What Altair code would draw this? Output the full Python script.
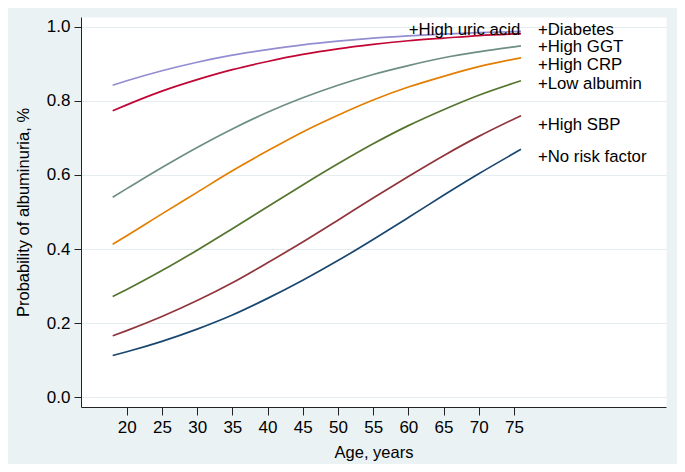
import altair as alt
import pandas as pd

ages = [18, 20, 25, 30, 35, 40, 45, 50, 55, 60, 65, 70, 76]

series_names = ["No risk factor", "+High SBP", "+Low albumin", "+High CRP",
                "+High GGT", "+Diabetes", "+High uric acid"]

no_risk = [0.113, 0.123, 0.151, 0.184, 0.222, 0.267, 0.316, 0.369, 0.426, 0.485, 0.545, 0.603, 0.669]
high_sbp = [0.166, 0.180, 0.218, 0.261, 0.309, 0.363, 0.419, 0.478, 0.538, 0.596, 0.652, 0.704, 0.760]
low_albumin = [0.272, 0.291, 0.342, 0.397, 0.455, 0.514, 0.573, 0.630, 0.684, 0.733, 0.776, 0.815, 0.854]
high_crp = [0.413, 0.436, 0.495, 0.553, 0.611, 0.665, 0.716, 0.761, 0.802, 0.837, 0.866, 0.892, 0.916]
high_ggt = [0.540, 0.563, 0.620, 0.674, 0.724, 0.769, 0.808, 0.842, 0.871, 0.895, 0.916, 0.932, 0.948]
diabetes = [0.773, 0.789, 0.826, 0.857, 0.884, 0.906, 0.925, 0.940, 0.952, 0.962, 0.969, 0.976, 0.981]
uric_acid = [0.842, 0.854, 0.881, 0.904, 0.923, 0.938, 0.951, 0.961, 0.969, 0.975, 0.980, 0.984, 0.987]

series_values = [no_risk, high_sbp, low_albumin, high_crp, high_ggt, diabetes, uric_acid]
colors = ["#1A476F", "#90353B", "#55752F", "#E37E00", "#6E8E84", "#C10534", "#938DD2"]

label_texts = ["+High uric acid", "+Diabetes", "+High GGT", "+High CRP",
               "+Low albumin", "+High SBP", "+No risk factor"]
label_age = [75.9, 78.4, 78.4, 78.4, 78.4, 78.4, 78.4]
label_value = [0.992, 0.992, 0.944, 0.897, 0.845, 0.735, 0.649]
label_align = ["right", "left", "left", "left", "left", "left", "left"]

x_ticks = [20, 25, 30, 35, 40, 45, 50, 55, 60, 65, 70, 75]
y_ticks = [0.0, 0.2, 0.4, 0.6, 0.8, 1.0]

rows = []
for name, vals in zip(series_names, series_values):
    for a, v in zip(ages, vals):
        rows.append({"series": name, "age": a, "prob": v})
df = pd.DataFrame(rows)

lab = pd.DataFrame({"text": label_texts, "age": label_age, "prob": label_value,
                    "align": label_align})

FONT = "Liberation Sans"

xscale = alt.Scale(domain=[13.5, 96.6], nice=False, zero=False)
yscale = alt.Scale(domain=[-0.026, 1.026], nice=False, zero=False)

lines = alt.Chart(df).mark_line(strokeWidth=1.7, interpolate="monotone").encode(
    x=alt.X("age:Q", scale=xscale,
            axis=alt.Axis(values=x_ticks, title="Age, years", grid=False,
                          tickSize=8, labelPadding=4, titleX=292.5, titleY=45,
                          titleBaseline="middle", titleAlign="center")),
    y=alt.Y("prob:Q", scale=yscale,
            axis=alt.Axis(values=y_ticks, format=".1f", title="Probability of albuminuria, %",
                          grid=True, tickSize=7, labelPadding=4,
                          titleX=-58, titleY=195, titleAngle=270,
                          titleBaseline="middle", titleAlign="center")),
    color=alt.Color("series:N", scale=alt.Scale(domain=series_names, range=colors), legend=None),
    detail="series:N",
)

left_labels = alt.Chart(lab[lab["align"] == "left"]).mark_text(
    align="left", baseline="middle", fontSize=16.8, font=FONT, color="black"
).encode(x=alt.X("age:Q", scale=xscale), y=alt.Y("prob:Q", scale=yscale), text="text:N")

right_labels = alt.Chart(lab[lab["align"] == "right"]).mark_text(
    align="right", baseline="middle", fontSize=16.8, font=FONT, color="black"
).encode(x=alt.X("age:Q", scale=xscale), y=alt.Y("prob:Q", scale=yscale), text="text:N")

chart = alt.layer(lines, left_labels, right_labels).properties(
    width=585, height=390,
    autosize=alt.AutoSizeParams(type="none"),
    padding={"left": 73, "top": 9, "right": 11, "bottom": 57},
    background="#EAF2F3",
).configure_view(
    fill="white", stroke="transparent"
).configure_axis(
    labelFont=FONT, titleFont=FONT, labelFontSize=17, titleFontSize=16.5,
    titleFontWeight="normal", labelColor="black", titleColor="black",
    domainColor="#222222", tickColor="#222222", domainWidth=1, tickWidth=1,
    gridColor="#E3ECEE", gridWidth=1,
)

chart.save("out.html", embed_options={"renderer": "svg", "actions": False})
